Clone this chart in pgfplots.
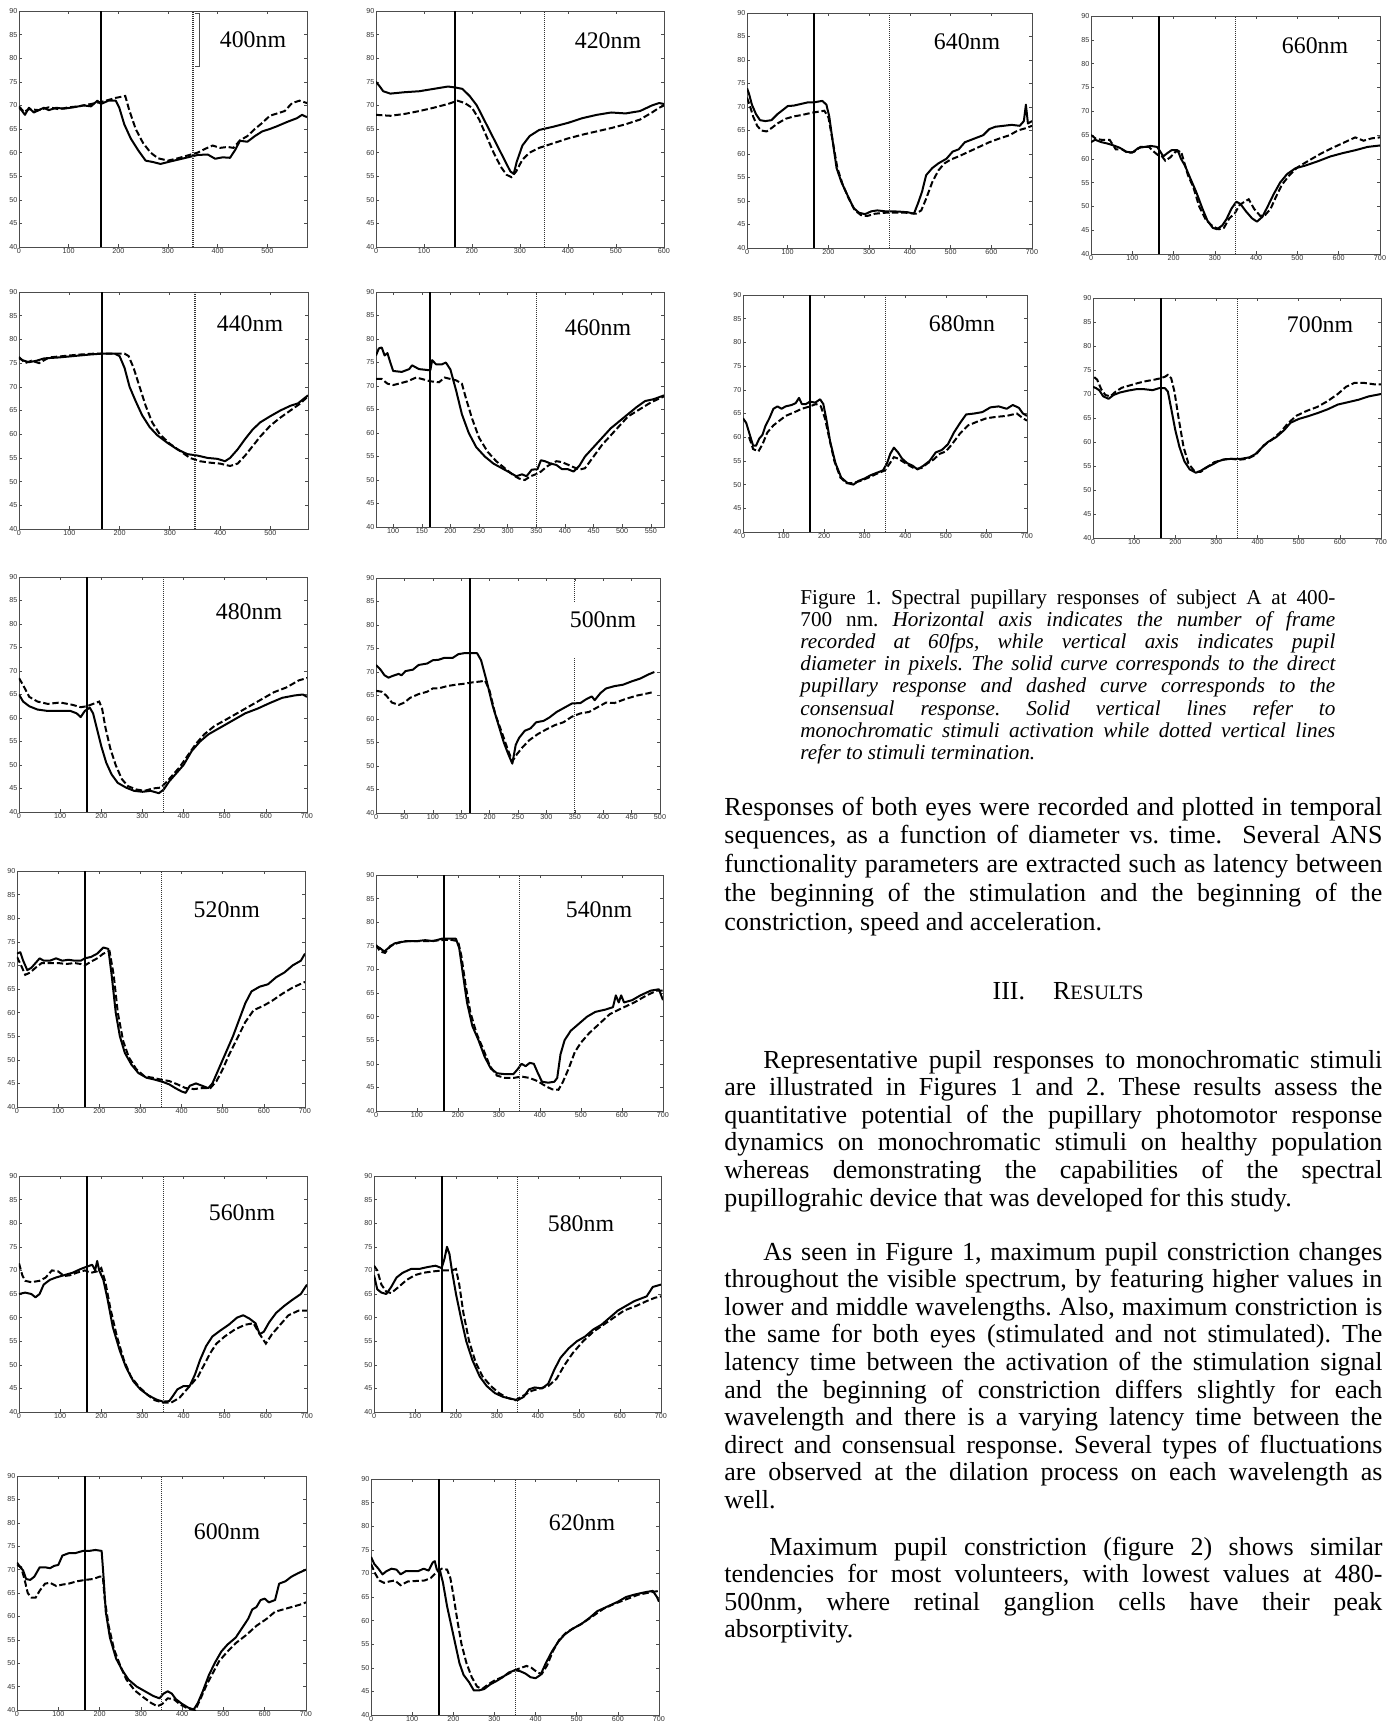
\documentclass[border=0pt]{standalone}
\usepackage{fontspec}
\setmainfont{Liberation Serif}
\setsansfont{Liberation Sans}
\usepackage{pgfplots}
\pgfplotsset{compat=1.18}
\pgfplotsset{
 mp/.style={scale only axis, anchor=north west, ymin=40, ymax=90, ytick={40,45,...,90},
   xmin=0, xmax=700, xtick={0,100,...,700}, tick pos=both, tick align=inside,
   major tick length=1.6pt, tick style={black!70, line width=0.3pt},
   axis line style={black!70, line width=0.4pt},
   ticklabel style={font=\fontsize{3.6}{4}\selectfont\sffamily, text=black!80, inner sep=0.6pt},
   /pgf/number format/assume math mode=true, scaled ticks=false},
 ds/.style={black, line width=1.0pt, line join=round},
 dd/.style={black, line width=1.0pt, dash pattern=on 3.2pt off 1.4pt},
 vl/.style={black, line width=1.1pt},
 vd/.style={black!80, line width=0.45pt, dash pattern=on 0.45pt off 0.55pt},
}
\newcommand\jl[1]{\hbox to\linewidth{#1}}
\newcommand\nl[1]{\hbox{#1}}
\begin{document}
\frenchspacing
\begin{tikzpicture}
\useasboundingbox (0pt,0pt) rectangle (698.5pt,-863pt);
% ---------- 400 nm
\begin{axis}[mp, at={(9.5pt,-5.5pt)}, width=144pt, height=118pt, xmax=580, xtick={0,100,...,500}]
\addplot[ds] coordinates {(0,69.5)(5,69)(12,68)(20,69.5)(30,68.5)(40,69)(50,69.5)(60,69)(75,69.5)(90,69.3)(110,69.6)(130,70)(145,69.8)(158,71)(165,70.3)(180,71)(195,71)(202,69.5)(212,66)(225,63)(240,60.5)(255,58.3)(270,58)(285,57.6)(300,58)(320,58.5)(340,59)(360,59.5)(380,59.6)(395,58.7)(410,59)(425,58.9)(435,60.5)(445,62.5)(460,62.3)(475,63.5)(490,64.5)(505,65)(520,65.6)(540,66.5)(560,67.3)(570,68)(580,67.5)};
\addplot[dd] coordinates {(0,69.8)(10,68.6)(20,69.2)(40,69)(60,69.6)(80,69.2)(100,69.6)(120,69.8)(140,70.2)(160,70.6)(175,71)(195,71.6)(214,72)(222,69)(235,65)(250,62)(265,60)(280,58.8)(300,58.3)(320,58.8)(340,59.4)(360,60)(375,60.8)(390,61.5)(405,61)(420,61.2)(432,61)(445,62.6)(460,63.5)(475,65)(490,66.3)(505,67.8)(520,68.3)(535,68.8)(550,70.5)(565,71)(580,70.5)};
\addplot[vl] coordinates {(165,40)(165,90)};
\addplot[vd, line width=0.9pt] coordinates {(350,40)(350,90)};
\addplot[black!70, line width=0.4pt] coordinates {(354,89.5)(363,89.5)(363,78.2)(354,78.2)};
\end{axis}
% ---------- 420 nm
\begin{axis}[mp, at={(188pt,-5.5pt)}, width=144pt, height=118pt, xmax=600, xtick={0,100,...,600}]
\addplot[ds] coordinates {(0,75)(8,74)(15,73)(30,72.5)(60,72.8)(90,73)(120,73.5)(150,74)(165,73.8)(180,73.5)(195,72)(210,70)(225,67)(240,64)(255,61)(270,58)(280,56)(287,55.5)(293,58)(305,61.5)(320,63.5)(340,64.8)(370,65.5)(400,66.3)(430,67.3)(460,68)(490,68.5)(520,68.3)(550,68.8)(575,70)(590,70.5)(600,70.3)};
\addplot[dd] coordinates {(0,68)(30,67.8)(60,68.2)(90,68.8)(120,69.5)(150,70.3)(170,71)(185,70.5)(200,69.5)(215,67)(230,63.5)(245,60)(260,57)(272,55.3)(282,54.8)(292,56)(305,58.5)(320,60)(340,61)(370,62)(400,63)(430,63.8)(460,64.5)(490,65.2)(520,66)(550,67)(575,68.5)(590,69.5)(600,70)};
\addplot[vl] coordinates {(165,40)(165,90)};
\addplot[vd] coordinates {(350,40)(350,90)};
\end{axis}
% ---------- 440 nm
\begin{axis}[mp, at={(9.5pt,-146pt)}, width=144.5pt, height=118.5pt, xmax=575, xtick={0,100,...,500}]
\addplot[ds] coordinates {(0,76)(10,75.5)(20,75.2)(35,75.5)(50,76)(80,76.2)(110,76.5)(140,76.8)(165,77)(190,77)(200,76.5)(210,74)(220,70)(232,67)(245,64)(260,61.5)(275,59.8)(295,58.2)(315,56.8)(335,55.8)(355,55.5)(375,55)(395,54.8)(410,54.3)(420,55)(435,56.8)(450,59)(465,61)(480,62.5)(500,63.8)(520,65)(540,66)(555,66.5)(575,68.2)};
\addplot[dd] coordinates {(0,76.3)(12,75)(25,75.5)(40,75)(60,76.2)(90,76.5)(120,76.8)(150,77)(180,77)(210,77)(218,76.5)(228,74)(240,70)(252,66)(265,62.5)(280,60)(300,58)(320,56.5)(340,55)(360,54.3)(380,54)(400,53.8)(420,53.3)(435,53.8)(450,55.5)(465,57.5)(480,59.5)(500,61.8)(520,63.5)(540,65)(560,66.5)(575,68)};
\addplot[vl] coordinates {(165,40)(165,90)};
\addplot[vd, line width=0.9pt] coordinates {(350,40)(350,90)};
\end{axis}
% ---------- 460 nm
\begin{axis}[mp, at={(188pt,-146pt)}, width=144pt, height=117.5pt, xmin=70, xmax=573, xtick={100,150,...,550}]
\addplot[ds] coordinates {(70,76.5)(75,78)(80,78.2)(85,76.5)(90,77)(95,75)(100,73.2)(115,73)(128,73.6)(133,74.4)(145,73.6)(160,73.4)(165,73.4)(168,75.5)(175,74.6)(185,74.6)(192,75)(200,73.5)(210,69)(220,64)(232,60)(245,57)(260,55)(275,53.5)(290,52.5)(305,51.5)(315,50.8)(325,51.2)(333,50.8)(342,52.2)(352,52.3)(358,54.2)(365,54)(375,53.5)(385,53.2)(395,52.3)(405,52.3)(415,51.8)(425,53)(435,55)(450,57)(465,59)(480,61)(495,62.5)(510,64)(525,65.5)(540,66.8)(555,67.2)(573,68)};
\addplot[dd] coordinates {(70,71.5)(80,71.5)(90,70.5)(100,70.2)(110,70.5)(125,71)(140,71.8)(150,71.5)(165,71)(180,70.8)(190,71.8)(200,71.5)(210,71.2)(220,70.5)(228,67)(238,63)(250,59)(265,56)(280,54)(295,52.5)(310,51)(320,50.3)(330,50)(340,50.8)(355,51.5)(370,53)(385,54)(395,53.8)(410,53)(425,52.2)(435,52.5)(450,55)(465,57.5)(480,59.5)(495,61.5)(510,63.5)(530,65)(550,66.5)(573,67.8)};
\addplot[vl] coordinates {(165,40)(165,90)};
\addplot[vd] coordinates {(350,40)(350,90)};
\end{axis}
% ---------- 480 nm
\begin{axis}[mp, at={(9.5pt,-288.5pt)}, width=144pt, height=117.5pt]
\addplot[ds] coordinates {(0,65)(10,63.5)(25,62.5)(45,61.8)(70,61.5)(100,61.5)(125,61.5)(140,61)(150,60.2)(160,61.5)(172,62.2)(180,61)(190,57.5)(200,54)(212,50.5)(225,48)(240,46.2)(260,45.2)(280,44.5)(300,44.3)(320,44.5)(340,44)(352,44.8)(365,46.5)(380,48)(400,50)(420,53)(440,55)(460,56.5)(490,58)(520,59.5)(550,61)(580,62)(610,63.2)(640,64.3)(670,64.8)(690,65)(700,64.5)};
\addplot[dd] coordinates {(0,68.5)(10,67)(25,64.5)(45,63.5)(70,63)(100,63.3)(130,62.8)(150,62.3)(165,62.5)(180,63)(195,63.5)(202,62)(210,58)(222,53.5)(235,50)(250,47)(265,45.5)(285,44.8)(305,44.5)(325,45)(345,45.2)(360,46.5)(375,48)(390,49.5)(410,52)(430,54.5)(450,56.5)(475,58.3)(500,59.5)(530,61)(560,62.5)(590,64)(620,65.5)(650,66.5)(680,68)(700,68.5)};
\addplot[vl] coordinates {(165,40)(165,90)};
\addplot[vd] coordinates {(350,40)(350,90)};
\end{axis}
% ---------- 500 nm
\begin{axis}[mp, at={(188pt,-289pt)}, width=142pt, height=117.5pt, xmax=500, xtick={0,50,...,500}]
\addplot[ds] coordinates {(0,71.5)(8,70.5)(15,69.3)(22,68.8)(30,69.2)(40,69.6)(45,69.3)(52,70.2)(65,70.5)(75,71.5)(90,71.8)(100,72.5)(110,72.6)(120,73)(135,73)(145,73.8)(155,74)(170,74)(178,74)(185,72.5)(195,68)(205,63)(215,59)(225,55)(233,52.5)(240,50.5)(246,54.5)(252,56)(262,57.5)(272,58)(282,59.3)(295,59.6)(305,60.3)(318,61.5)(330,62.3)(345,63.3)(360,63.4)(370,64.2)(380,64.8)(385,64)(395,65.5)(405,66.5)(420,67)(435,67.3)(450,68)(465,68.6)(480,69.5)(490,70)};
\addplot[dd] coordinates {(0,66)(10,65.8)(18,65)(28,63.5)(40,63)(50,63.5)(60,64.5)(75,65.3)(90,65.8)(100,66.5)(110,66.5)(125,67)(140,67.3)(155,67.5)(170,67.8)(185,68)(192,68.2)(200,66)(210,61)(222,57)(232,53.5)(240,51)(248,52.5)(258,54)(270,55.5)(285,56.8)(300,57.8)(315,58.7)(330,59.3)(345,60.5)(360,61.2)(375,61.5)(390,62.5)(405,63.5)(420,63.4)(440,64.3)(460,65)(480,65.5)(490,65.8)};
\addplot[vl] coordinates {(165,40)(165,90)};
\addplot[vd] coordinates {(350,40)(350,73)};
\addplot[vd] coordinates {(350,85)(350,90)};
\end{axis}
% ---------- 520 nm
\begin{axis}[mp, at={(8.5pt,-435.5pt)}, width=144pt, height=118pt]
\addplot[ds] coordinates {(0,72.5)(8,72.8)(15,71)(25,69)(35,69.5)(45,70.5)(55,71.5)(65,71)(80,71)(95,71.5)(110,71)(125,71.2)(140,71)(155,71)(165,71.5)(180,71.8)(195,72.5)(210,73.8)(222,73.5)(230,68)(240,60)(250,55)(262,51.5)(278,49)(295,47.2)(315,46.2)(335,45.8)(355,45.3)(370,44.8)(385,44)(400,43.3)(410,43)(420,44.5)(435,45)(450,44.5)(465,44)(475,45)(485,47)(495,49)(510,52)(525,55)(540,58.5)(555,62)(570,64.5)(590,65.5)(610,66)(630,67.5)(650,68.5)(670,70)(690,71)(700,72.5)};
\addplot[dd] coordinates {(0,71.8)(10,70)(20,68)(32,68.5)(45,69.5)(60,70.5)(80,70.5)(100,70.5)(120,70.3)(140,70.5)(155,70.3)(165,70)(180,70.8)(195,71.5)(210,72.5)(225,73)(235,68)(245,60)(258,54)(272,50.5)(290,48)(310,46.5)(330,46.2)(350,45.8)(370,45.5)(390,44.8)(410,44)(430,43.8)(450,44)(470,44)(485,45.5)(500,48)(515,51)(535,54.5)(555,58)(575,60.5)(600,61.5)(620,62.5)(645,64)(670,65.3)(700,66.5)};
\addplot[vl] coordinates {(165,40)(165,90)};
\addplot[vd] coordinates {(350,40)(350,90)};
\end{axis}
% ---------- 540 nm
\begin{axis}[mp, at={(188pt,-437.5pt)}, width=143.5pt, height=118pt]
\addplot[ds] coordinates {(0,75)(10,74.5)(20,73.8)(30,74.5)(45,75.5)(60,75.8)(80,76)(100,76)(120,76.2)(140,76)(160,76.5)(180,76.5)(195,76.5)(203,74.5)(212,69)(222,63)(235,58)(250,55)(265,51.5)(280,49)(295,48)(315,47.8)(335,47.8)(345,48.8)(355,50)(365,49.5)(375,50.2)(385,50)(395,48)(405,46.2)(420,46)(435,46.2)(442,47)(450,52)(460,55)(475,57)(495,58.5)(515,60)(535,61)(560,61.5)(578,62)(585,64.5)(592,63)(598,64.5)(605,63)(625,63.5)(645,64.5)(670,65.5)(690,65.8)(700,63.5)};
\addplot[dd] coordinates {(0,75.2)(10,73.8)(22,73.5)(35,75)(50,75.5)(70,76)(100,76)(130,76)(160,76.2)(180,76.3)(200,76)(208,73)(218,67)(230,61)(245,56.5)(262,53)(278,49.5)(295,47.5)(315,47)(335,47)(355,47.3)(375,47)(395,46.3)(415,45.2)(430,44.6)(445,44.5)(455,46)(470,49)(485,52.5)(500,54.5)(520,56.5)(545,58.5)(570,60.5)(600,61.8)(630,63)(660,64.5)(685,65.5)(700,65.5)};
\addplot[vl] coordinates {(165,40)(165,90)};
\addplot[vd] coordinates {(350,40)(350,90)};
\end{axis}
% ---------- 560 nm
\begin{axis}[mp, at={(9.5pt,-588pt)}, width=144pt, height=118pt]
\addplot[ds] coordinates {(0,65)(15,65.3)(30,65)(40,64.3)(50,65)(60,67)(75,68)(90,68.5)(110,69)(130,69.5)(150,70.3)(165,70.8)(178,71.2)(185,70)(190,72)(195,70)(205,68)(215,64)(228,58)(245,53)(260,49.5)(278,46.5)(295,44.8)(315,43.5)(335,42.6)(350,42.2)(365,42.3)(375,43.5)(385,44.8)(400,45.5)(415,45.5)(428,48)(440,51)(455,54)(470,56)(490,57.3)(510,58.5)(530,60)(545,60.5)(560,59.8)(575,58.8)(585,56.5)(595,57)(608,59)(625,61)(645,62.5)(665,63.8)(685,65)(700,67)};
\addplot[dd] coordinates {(0,71.5)(8,69)(15,67.8)(30,67.5)(50,67.8)(65,68.5)(80,70)(95,69.8)(110,68.8)(125,69)(140,69.5)(160,70)(175,69.5)(190,69.8)(200,70.5)(210,67.5)(222,62)(238,56)(255,51)(272,47.5)(290,45.5)(310,43.8)(330,42.5)(350,42)(370,42)(390,43)(405,44.5)(420,46)(435,47.5)(450,50)(465,52.5)(480,54.5)(500,56)(525,57.5)(550,58.5)(570,58.8)(585,56.5)(600,54.5)(615,56.5)(635,58.5)(655,60.5)(680,61.5)(700,61.5)};
\addplot[vl] coordinates {(165,40)(165,90)};
\addplot[vd] coordinates {(350,40)(350,90)};
\end{axis}
% ---------- 580 nm
\begin{axis}[mp, at={(187pt,-588pt)}, width=143.5pt, height=118pt]
\addplot[ds] coordinates {(0,69)(8,66)(18,65.3)(30,65)(42,66.5)(55,68.5)(70,69.5)(90,70.3)(110,70.3)(130,70.7)(150,71)(165,70.5)(172,72.5)(178,75)(184,73.5)(190,70)(200,65)(212,60)(225,55)(240,51)(258,47.5)(275,45.5)(295,44)(315,43.2)(335,42.8)(350,42.5)(365,43.2)(378,44.8)(392,45.2)(410,45)(425,46)(440,49)(455,51.5)(475,53.5)(495,55)(515,56)(535,57.5)(555,58.5)(575,60)(595,61.5)(615,62.5)(635,63.5)(650,64)(665,64.5)(680,66.5)(700,67)};
\addplot[dd] coordinates {(0,71)(8,70)(18,67)(30,65.5)(42,65.2)(60,66.5)(80,68)(100,69)(120,69.5)(145,69.8)(170,70)(190,70)(200,70.3)(208,67)(218,61)(232,55)(248,50.5)(265,47.5)(285,45.5)(305,44)(325,43)(345,42.5)(365,43.5)(385,44.5)(405,45)(425,45.5)(445,47)(465,50)(485,52.5)(510,55)(535,57)(560,58.5)(585,60)(610,61.5)(640,62.5)(665,63.5)(685,64.2)(700,64.5)};
\addplot[vl] coordinates {(165,40)(165,90)};
\addplot[vd] coordinates {(350,40)(350,90)};
\end{axis}
% ---------- 600 nm
\begin{axis}[mp, at={(8.5pt,-738pt)}, width=144.5pt, height=117pt]
\addplot[ds] coordinates {(0,71.5)(8,70.5)(15,69.8)(22,68)(32,67.8)(42,68.5)(55,70.5)(68,70.5)(80,70.3)(90,70.8)(100,71)(110,73)(125,73.5)(140,73.5)(160,74)(175,74)(190,74.2)(205,74)(210,68)(215,61)(225,55.5)(240,51)(255,48.5)(270,46.5)(290,45)(310,44)(330,43)(345,42.5)(355,43.5)(365,44)(375,43.5)(385,42.3)(400,41.3)(415,40.5)(428,40.1)(438,41.5)(450,44)(465,47.5)(480,50.2)(495,52.5)(510,54)(530,55.5)(545,57.5)(560,59.5)(570,61.5)(580,62)(590,63.5)(600,63.8)(610,63)(625,63.5)(635,67)(650,67.5)(665,68.5)(680,69.2)(700,70)};
\addplot[dd] coordinates {(0,71)(10,70.5)(18,68)(26,65)(35,64)(45,64)(55,65.5)(68,67)(80,67.2)(95,66.5)(110,66.8)(125,67)(145,67.5)(165,67.8)(185,68)(200,68.5)(208,68.5)(212,64)(222,58)(235,53)(250,49.5)(265,46.5)(285,44.2)(305,42.8)(325,41.5)(340,40.8)(352,41.3)(365,42.5)(380,42.3)(395,41.2)(410,40.5)(420,40.2)(432,40)(445,42.5)(460,45.5)(475,48)(490,50.5)(510,52.5)(530,54.3)(555,56)(580,58)(605,59.5)(625,61)(645,61.5)(665,62)(685,62.5)(700,63)};
\addplot[vl] coordinates {(165,40)(165,90)};
\addplot[vd] coordinates {(350,40)(350,90)};
\end{axis}
% ---------- 620 nm
\begin{axis}[mp, at={(185.5pt,-739.5pt)}, width=144pt, height=118pt]
\addplot[ds] coordinates {(0,73.5)(8,72)(18,71)(28,69.8)(38,70.5)(50,71)(62,70.8)(72,69.8)(85,70.5)(100,70.5)(115,70.5)(128,71)(140,70.6)(150,72.3)(155,72.6)(160,70.8)(168,70.5)(175,68)(185,63)(195,59)(205,55)(215,51)(225,48.5)(238,47)(250,45.2)(262,45.2)(275,45.5)(290,46.5)(305,47.2)(320,48)(335,49)(350,49.5)(362,49.3)(375,48.8)(388,48)(400,47.8)(412,48.5)(425,51)(440,53.5)(455,55.5)(470,57)(490,58.3)(510,59.2)(530,60.5)(550,62)(575,63)(600,64)(620,65)(640,65.5)(665,66)(685,66.3)(695,65)(700,64)};
\addplot[dd] coordinates {(0,72)(10,70)(20,68.5)(32,68)(45,68.3)(58,68.5)(72,67.5)(90,68.3)(110,68.4)(130,68.5)(145,69)(160,70.3)(172,71)(185,70.8)(193,69)(200,65.5)(210,60)(220,55)(232,51)(245,48)(258,46)(270,45.5)(285,46.5)(300,47.3)(318,48)(335,48.8)(350,49.5)(365,50)(378,50.4)(390,50)(405,49)(415,48.7)(428,50.5)(442,53.5)(458,56)(475,57.5)(495,58.5)(515,59.5)(540,61)(565,62.5)(590,63.5)(620,64.5)(650,65.5)(680,66)(700,66.3)};
\addplot[vl] coordinates {(165,40)(165,90)};
\addplot[vd] coordinates {(350,40)(350,90)};
\end{axis}
% ---------- 640 nm
\begin{axis}[mp, at={(373.5pt,-6.5pt)}, width=142.5pt, height=117.5pt]
\addplot[ds] coordinates {(0,74)(5,72.8)(12,70.5)(22,68.5)(32,67.2)(45,67)(60,67.2)(75,68.5)(90,69.5)(100,70.2)(115,70.3)(130,70.6)(150,71)(165,71)(185,71.3)(195,70.5)(202,68)(210,63)(220,57)(232,54)(248,51)(262,48.5)(275,47.5)(290,47.2)(305,47.8)(320,48)(340,47.8)(360,47.8)(380,47.7)(395,47.6)(410,47.3)(420,49.5)(430,52)(440,55.5)(455,57)(470,58)(490,59)(505,60.5)(520,61)(535,62.5)(550,63)(565,63.5)(580,64)(595,65.3)(610,65.8)(630,66)(650,66.2)(670,66)(680,67)(685,70.5)(690,66.5)(700,67)};
\addplot[dd] coordinates {(0,72)(8,70)(15,68)(25,66)(35,65)(48,64.8)(60,65.5)(75,66.5)(95,67.5)(115,68)(135,68.3)(155,68.7)(175,69)(190,69.2)(200,67.8)(210,63)(222,57)(235,53.5)(250,50.5)(265,48)(280,47)(295,46.8)(315,47.3)(340,47.5)(365,47.5)(390,47.5)(415,47.3)(428,48)(440,50.5)(455,54)(470,56.5)(485,58)(500,58.8)(520,59.5)(545,60.5)(570,61.5)(595,62.5)(620,63.3)(645,64)(665,65)(685,65.5)(700,66)};
\addplot[vl] coordinates {(165,40)(165,90)};
\addplot[vd] coordinates {(350,40)(350,90)};
\end{axis}
% ---------- 660 nm
\begin{axis}[mp, at={(545.5pt,-8pt)}, width=144.5pt, height=119pt]
\addplot[ds] coordinates {(0,63.5)(10,64)(25,63.5)(40,63.2)(55,62.8)(70,62.3)(85,61.5)(100,61.3)(115,62.3)(130,62.5)(145,62.7)(160,62.5)(168,61.5)(175,60.5)(185,61.2)(195,61.8)(210,61.8)(218,60)(228,58.5)(240,56)(255,53)(270,49.5)(282,47)(295,45.5)(305,45.2)(318,46)(328,47.3)(340,49.5)(352,51)(362,50.5)(375,49)(390,47.5)(402,46.8)(415,47.8)(428,50)(442,52.5)(458,55)(475,56.8)(495,58)(520,58.6)(550,59.5)(580,60.5)(610,61.2)(640,61.8)(670,62.5)(700,62.8)};
\addplot[dd] coordinates {(0,65)(12,64.2)(25,64)(45,64)(60,62)(75,62)(90,61.2)(105,61.5)(120,62.5)(140,62.5)(152,61.5)(162,60.8)(172,60.5)(180,59.6)(192,60.3)(205,61.5)(218,61.6)(225,59.5)(235,56.5)(248,54)(262,50)(278,47.2)(295,45.8)(310,45.2)(322,45.5)(335,47.5)(348,48.5)(360,50.3)(372,51)(382,51.5)(395,49.5)(410,48)(422,48.2)(435,49.5)(448,52)(462,54.5)(480,56.5)(500,58.2)(525,59.5)(555,61)(585,62.3)(615,63.5)(640,64.5)(660,63.8)(680,64.3)(700,64.5)};
\addplot[vl] coordinates {(165,40)(165,90)};
\addplot[vd] coordinates {(350,40)(350,90)};
\end{axis}
% ---------- 680 nm
\begin{axis}[mp, at={(371.5pt,-147.5pt)}, width=142pt, height=118.5pt]
\addplot[ds] coordinates {(0,64)(8,63)(15,61)(25,58.2)(32,58.2)(40,59.7)(48,60.5)(55,62.3)(65,64)(75,66)(85,66.5)(95,66)(105,66.5)(120,66.8)(130,67.2)(138,68.3)(145,67)(155,67)(165,67.5)(178,67.3)(190,68)(198,67)(205,64)(215,59)(228,54.5)(242,51.5)(258,50.3)(272,50)(285,50.8)(300,51.3)(315,52)(330,52.5)(345,53)(355,54.5)(363,56.5)(372,57.8)(382,56.8)(392,55.5)(405,54.5)(418,54)(430,53.2)(445,54)(460,55)(475,56.8)(490,57.3)(505,58.5)(520,61)(535,63)(550,64.8)(570,65)(590,65.3)(610,66.3)(630,66.5)(650,66)(665,66.8)(680,66.2)(690,65)(700,64.5)};
\addplot[dd] coordinates {(15,60)(25,57.5)(38,57)(48,58.5)(60,61)(75,62.5)(90,63.5)(105,64.5)(125,65.2)(145,66)(165,66.5)(180,67)(192,66.5)(202,64)(212,60)(225,55)(240,51.5)(255,50.3)(270,50.3)(290,50.8)(310,51.5)(330,52.3)(350,53)(362,54.5)(372,55.8)(382,55.5)(395,54.8)(410,54)(425,53.3)(440,53.5)(455,54.5)(470,55.3)(485,56.5)(500,57)(515,58.5)(535,60.8)(555,62.5)(575,63.2)(600,64)(625,64.3)(650,64.5)(675,65)(690,64)(700,63.5)};
\addplot[vl] coordinates {(165,40)(165,90)};
\addplot[vd] coordinates {(350,40)(350,90)};
\end{axis}
% ---------- 700 nm
\begin{axis}[mp, at={(546.5pt,-149pt)}, width=144pt, height=120pt]
\addplot[ds] coordinates {(0,71.5)(8,71.2)(15,70.8)(25,69.5)(38,69)(50,69.8)(65,70.3)(85,70.7)(105,71)(125,71)(145,70.8)(160,71.2)(175,71.2)(182,70.5)(190,67)(200,62.5)(210,59)(222,56)(235,54.3)(250,53.6)(262,54)(275,54.7)(290,55.3)(305,56)(320,56.4)(340,56.5)(360,56.5)(380,56.8)(395,57.5)(410,58.8)(425,60)(445,61)(465,62.5)(480,64)(500,64.8)(520,65.3)(545,66)(570,66.8)(595,67.8)(620,68.3)(645,68.8)(670,69.5)(700,70)};
\addplot[dd] coordinates {(3,73.5)(10,73)(20,71)(30,69.8)(42,69.5)(55,70.5)(70,71.3)(90,71.8)(110,72.3)(130,72.7)(150,73)(165,73.3)(175,73.6)(182,74)(190,73.3)(198,70.5)(208,65)(220,59)(232,55.5)(248,53.8)(262,53.8)(278,54.8)(295,55.8)(315,56.3)(335,56.5)(355,56.3)(375,56.5)(395,57.3)(415,59.3)(435,60.5)(455,62)(475,64)(495,65.5)(520,66.5)(545,67.3)(570,68.5)(595,70)(615,71.5)(635,72.3)(660,72.3)(685,72)(700,72)};
\addplot[vl] coordinates {(165,40)(165,90)};
\addplot[vd] coordinates {(350,40)(350,90)};
\end{axis}
% ---------- panel labels
\begin{scope}[every node/.style={font=\fontsize{11.9}{12}\selectfont, inner sep=0pt}]
\node at (126.5pt,-20pt) {400nm};
\node at (304pt,-20.5pt) {420nm};
\node at (125pt,-162pt) {440nm};
\node at (299pt,-164pt) {460nm};
\node at (124.5pt,-306pt) {480nm};
\node at (301.5pt,-310pt) {500nm};
\node at (113.4pt,-455pt) {520nm};
\node at (299.5pt,-455pt) {540nm};
\node at (121pt,-606.5pt) {560nm};
\node at (290.5pt,-612pt) {580nm};
\node at (113.5pt,-766pt) {600nm};
\node at (291pt,-761.5pt) {620nm};
\node at (483.5pt,-21pt) {640nm};
\node at (657.5pt,-22.7pt) {660nm};
\node at (481pt,-162pt) {680mn};
\node at (660pt,-162.5pt) {700nm};
\end{scope}
% ---------- caption
\node[anchor=base west, inner sep=0pt] at (400pt,-302pt) {\begin{minipage}[t]{267.5pt}\fontsize{10.6}{11.1}\selectfont\lineskiplimit=-100pt\lineskip=0pt\parindent=0pt
\jl{Figure 1. Spectral pupillary responses of subject A at 400-}
\jl{700 nm. \itshape Horizontal axis indicates the number of frame}
\jl{\itshape recorded at 60fps, while vertical axis indicates pupil}
\jl{\itshape diameter in pixels. The solid curve corresponds to the direct}
\jl{\itshape pupillary response and dashed curve corresponds to the}
\jl{\itshape consensual response. Solid vertical lines refer to}
\jl{\itshape monochromatic stimuli activation while dotted vertical lines}
\nl{\itshape refer to stimuli termination.}
\end{minipage}};
% ---------- body paragraph 1
\node[anchor=base west, inner sep=0pt] at (362pt,-407.5pt) {\begin{minipage}[t]{329pt}\fontsize{13}{14.4}\selectfont\lineskiplimit=-100pt\lineskip=0pt\parindent=0pt
\jl{Responses of both eyes were recorded and plotted in temporal}
\jl{sequences, as a function of diameter vs. time. \ Several ANS}
\jl{functionality parameters are extracted such as latency between}
\jl{the beginning of the stimulation and the beginning of the}
\nl{constriction, speed and acceleration.}
\end{minipage}};
% ---------- heading
\node[anchor=base, inner sep=0pt, font=\fontsize{13}{14}\selectfont] at (534pt,-499.5pt) {III.\hspace{14pt}R{\fontsize{10.2}{12}\selectfont ESULTS}};
% ---------- body paragraph 2
\node[anchor=base west, inner sep=0pt] at (362pt,-534pt) {\begin{minipage}[t]{329pt}\fontsize{13}{13.8}\selectfont\lineskiplimit=-100pt\lineskip=0pt\parindent=0pt
\jl{\hspace*{19.5pt}Representative pupil responses to monochromatic stimuli}
\jl{are illustrated in Figures 1 and 2. These results assess the}
\jl{quantitative potential of the pupillary photomotor response}
\jl{dynamics on monochromatic stimuli on healthy population}
\jl{whereas demonstrating the capabilities of the spectral}
\nl{pupillograhic device that was developed for this study.}
\end{minipage}};
% ---------- body paragraph 3
\node[anchor=base west, inner sep=0pt] at (362pt,-630pt) {\begin{minipage}[t]{329pt}\fontsize{13}{13.8}\selectfont\lineskiplimit=-100pt\lineskip=0pt\parindent=0pt
\jl{\hspace*{19.5pt}As seen in Figure 1, maximum pupil constriction changes}
\jl{throughout the visible spectrum, by featuring higher values in}
\jl{lower and middle wavelengths. Also, maximum constriction is}
\jl{the same for both eyes (stimulated and not stimulated). The}
\jl{latency time between the activation of the stimulation signal}
\jl{and the beginning of constriction differs slightly for each}
\jl{wavelength and there is a varying latency time between the}
\jl{direct and consensual response. Several types of fluctuations}
\jl{are observed at the dilation process on each wavelength as}
\nl{well.}
\end{minipage}};
% ---------- body paragraph 4
\node[anchor=base west, inner sep=0pt] at (362pt,-777.5pt) {\begin{minipage}[t]{329pt}\fontsize{13}{13.8}\selectfont\lineskiplimit=-100pt\lineskip=0pt\parindent=0pt
\jl{\hspace*{22.5pt}Maximum pupil constriction (figure 2) shows similar}
\jl{tendencies for most volunteers, with lowest values at 480-}
\jl{500nm, where retinal ganglion cells have their peak}
\nl{absorptivity.}
\end{minipage}};
\end{tikzpicture}
\end{document}
